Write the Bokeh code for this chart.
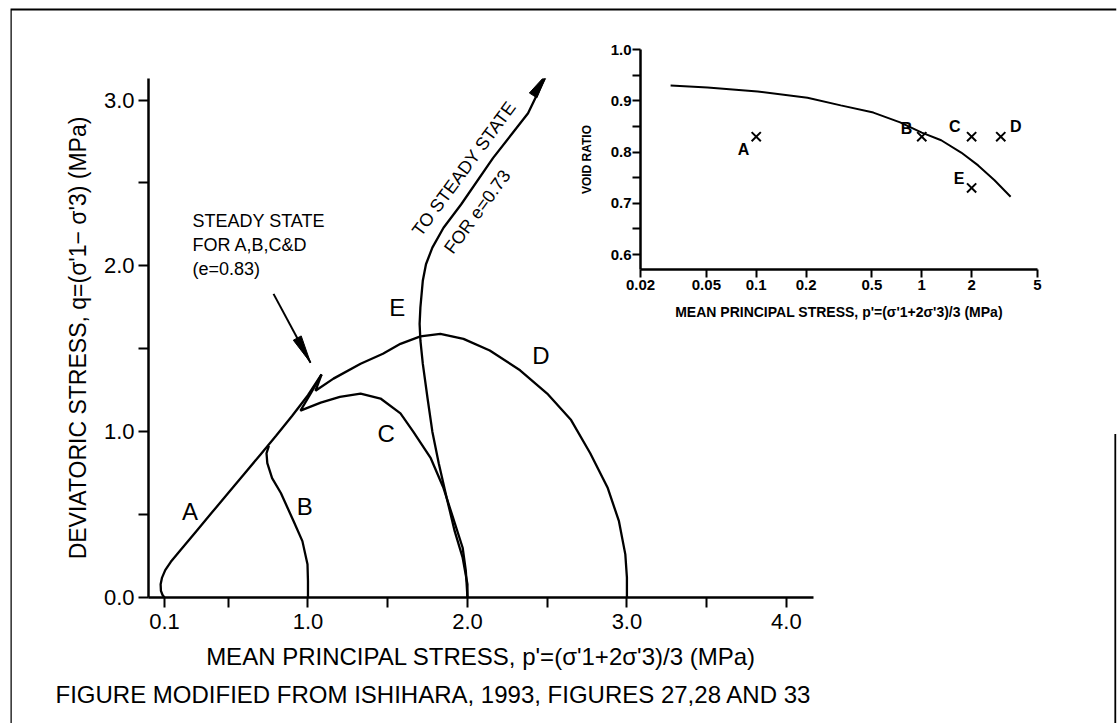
import math
from bokeh.plotting import figure
from bokeh.models import Column, Range1d, FixedTicker, Title, CustomJSTickFormatter
from bokeh.embed import file_html
from bokeh.resources import INLINE
from bokeh.core.properties import value

W, H = 1119, 723
FONT = "Liberation Sans"

# ---------------- main chart data (p', q in MPa) ----------------
A_p = [0.100, 0.088, 0.078, 0.076, 0.085, 0.105, 0.140, 0.200, 0.300, 0.400, 0.500, 0.600, 0.700, 0.800, 0.900, 1.000, 1.085]
A_q = [0.000, 0.015, 0.040, 0.080, 0.120, 0.165, 0.215, 0.285, 0.400, 0.515, 0.630, 0.745, 0.860, 0.975, 1.095, 1.220, 1.345]

B_p = [1.000, 1.000, 0.997, 0.965, 0.910, 0.830, 0.775, 0.745, 0.740, 0.755]
B_q = [0.000, 0.100, 0.200, 0.340, 0.460, 0.630, 0.720, 0.810, 0.870, 0.915]

C_p = [2.000, 1.990, 1.970, 1.910, 1.850, 1.770, 1.660, 1.580, 1.455, 1.330, 1.200, 1.080, 0.953, 1.020, 1.085]
C_q = [0.000, 0.160, 0.300, 0.480, 0.660, 0.840, 1.000, 1.110, 1.200, 1.230, 1.210, 1.175, 1.127, 1.235, 1.345]

D_p = [3.000, 3.000, 2.990, 2.950, 2.880, 2.770, 2.650, 2.500, 2.330, 2.140, 1.975, 1.830, 1.705, 1.580, 1.470, 1.330, 1.160, 1.047, 1.085]
D_q = [0.000, 0.120, 0.260, 0.460, 0.660, 0.870, 1.070, 1.230, 1.370, 1.490, 1.560, 1.590, 1.575, 1.530, 1.470, 1.410, 1.320, 1.247, 1.345]

E_p = [2.000, 2.000, 1.970, 1.920, 1.870, 1.820, 1.780, 1.750, 1.720, 1.705, 1.700, 1.705, 1.720, 1.740, 1.780, 1.850, 1.960, 2.160, 2.380, 2.500]
E_q = [0.000, 0.080, 0.240, 0.400, 0.600, 0.810, 1.000, 1.200, 1.410, 1.550, 1.650, 1.750, 1.910, 2.010, 2.110, 2.230, 2.370, 2.650, 2.920, 3.160]

curve_names = ["A", "B", "C", "D", "E"]
curve_label_p = [0.26, 0.98, 1.49, 2.46, 1.56]
curve_label_q = [0.52, 0.55, 0.99, 1.46, 1.75]

x_major = [0.1, 1.0, 2.0, 3.0, 4.0]
x_minor = [0.5, 1.5, 2.5, 3.5]
y_major = [0.0, 1.0, 2.0, 3.0]
y_minor = [0.5, 1.5, 2.5]

# annotation: steady state arrow (start -> tip)
ss_arrow_p = [0.784, 1.016]
ss_arrow_q = [1.831, 1.416]
ss_text = "STEADY STATE\nFOR A,B,C&D\n(e=0.83)"
ss_text_pos = (0.276, 2.33)
e_text1 = "TO STEADY STATE"
e_text2 = "FOR e=0.73"
e_text1_pos = (2.030, 2.550)
e_text2_pos = (2.012, 2.362)
footer = "FIGURE MODIFIED FROM ISHIHARA, 1993, FIGURES 27,28 AND 33"

# ---------------- inset data ----------------
ssl_p = [0.0304, 0.0508, 0.102, 0.204, 0.324, 0.51, 0.74, 1.0, 1.31, 1.73, 2.19, 2.75, 3.44]
ssl_e = [0.930, 0.926, 0.918, 0.906, 0.891, 0.877, 0.858, 0.838, 0.823, 0.799, 0.774, 0.745, 0.713]

pt_names = ["A", "B", "C", "D", "E"]
pt_p = [0.1, 1.0, 2.0, 3.0, 2.0]
pt_e = [0.83, 0.83, 0.83, 0.83, 0.73]
pt_label_p = [0.0837, 0.81, 1.58, 3.7, 1.68]
pt_label_e = [0.805, 0.846, 0.85, 0.85, 0.748]

ix_ticks = [0.02, 0.05, 0.1, 0.2, 0.5, 1, 2, 5]
iy_major = [0.6, 0.7, 0.8, 0.9, 1.0]
iy_minor = [0.65, 0.75, 0.85, 0.95]

# ---------------- layout geometry ----------------
M_L, M_R, M_T, M_B = 148, 306, 78, 126
XR = (0.0, 4.17)
YR = (0.0, 3.13)
FW, FH = W - M_L - M_R, H - M_T - M_B
SX, SY = FW / (XR[1] - XR[0]), FH / (YR[1] - YR[0])


def head(xt, yt, xf, yf, L, Wd):
    dx, dy = (xt - xf) * SX, (yt - yf) * SY
    n = math.hypot(dx, dy)
    ux, uy = dx / n, dy / n
    bx, by = -ux * L, -uy * L
    px, py = -uy * Wd / 2, ux * Wd / 2
    xs = [xt, xt + (bx + px) / SX, xt + (bx - px) / SX]
    ys = [yt, yt + (by + py) / SY, yt + (by - py) / SY]
    return xs, ys


def common(fig):
    fig.background_fill_alpha = 0
    fig.border_fill_alpha = 0
    fig.outline_line_color = None
    fig.grid.visible = False


def no_align(fig):
    try:
        fig.frame_align = False
    except Exception:
        pass


# ---------------- border figure ----------------
bf = figure(width=W, height=H, x_range=Range1d(0, 1), y_range=Range1d(0, 1),
            output_backend="svg", toolbar_location=None,
            min_border_left=10, min_border_right=3, min_border_top=8, min_border_bottom=0)
bf.outline_line_color = None
bf.grid.visible = False
bf.axis.visible = False
bf.line([0.0, 0.0, 1.0], [0.0, 0.999, 0.999], line_color="black", line_width=2.5)
bf.line([0.999, 0.999], [0.0, 0.405], line_color="black", line_width=2)

# ---------------- main figure ----------------
p = figure(width=W, height=H, x_range=Range1d(*XR), y_range=Range1d(*YR),
           output_backend="svg", toolbar_location=None,
           min_border_left=M_L, min_border_right=M_R, min_border_top=M_T, min_border_bottom=M_B)
common(p)

for xs, ys in [(A_p, A_q), (B_p, B_q), (C_p, C_q), (D_p, D_q), (E_p, E_q)]:
    p.line(xs, ys, line_color="black", line_width=2.3)

p.text(x=curve_label_p, y=curve_label_q, text=curve_names, text_font=value(FONT),
       text_font_size="24px", text_align="center", text_baseline="middle", text_color="black")

# steady state arrow
p.line(ss_arrow_p, ss_arrow_q, line_color="black", line_width=2)
hx, hy = head(ss_arrow_p[1], ss_arrow_q[1], ss_arrow_p[0], ss_arrow_q[0], 28, 9)
p.patch(hx, hy, fill_color="black", line_color="black", line_width=1)
# arrow at end of E
hx2, hy2 = head(E_p[-1], E_q[-1], E_p[-3], E_q[-3], 26, 9)
p.patch(hx2, hy2, fill_color="black", line_color="black", line_width=1)

p.text(x=[ss_text_pos[0]], y=[ss_text_pos[1]], text=[ss_text], text_font=value(FONT),
       text_font_size="18px", text_align="left", text_baseline="top", text_line_height=1.2)

ang = math.atan2((E_q[-2] - E_q[-4]) * SY, (E_p[-2] - E_p[-4]) * SX)
p.text(x=[e_text1_pos[0]], y=[e_text1_pos[1]], text=[e_text1], angle=ang, text_font=value(FONT),
       text_font_size="18px", text_align="center", text_baseline="bottom")
p.text(x=[e_text2_pos[0]], y=[e_text2_pos[1]], text=[e_text2], angle=ang, text_font=value(FONT),
       text_font_size="18px", text_align="center", text_baseline="top")

p.xaxis.ticker = FixedTicker(ticks=x_major, minor_ticks=x_minor)
p.yaxis.ticker = FixedTicker(ticks=y_major, minor_ticks=y_minor)
p.xaxis.formatter = CustomJSTickFormatter(code="return tick.toFixed(1);")
p.yaxis.formatter = CustomJSTickFormatter(code="return tick.toFixed(1);")
for ax in [p.xaxis[0], p.yaxis[0]]:
    ax.axis_line_width = 2.5
    ax.axis_line_color = "black"
    ax.major_tick_line_width = 2
    ax.minor_tick_line_width = 2
    ax.major_tick_line_color = "black"
    ax.minor_tick_line_color = "black"
    ax.major_tick_in = 0
    ax.minor_tick_in = 0
    ax.major_tick_out = 10
    ax.minor_tick_out = 10
    ax.major_label_text_font = FONT
    ax.major_label_text_font_size = "22px"
    ax.major_label_text_color = "black"
    ax.axis_label_text_font = FONT
    ax.axis_label_text_font_style = "normal"
    ax.axis_label_text_color = "black"
p.xaxis.axis_label_text_font_size = "24px"
p.yaxis.axis_label_text_font_size = "23px"
p.xaxis.major_label_standoff = 6
p.yaxis.major_label_standoff = 4
p.xaxis.axis_label = "MEAN PRINCIPAL STRESS, p'=(σ'1+2σ'3)/3 (MPa)"
p.yaxis.axis_label = "DEVIATORIC STRESS, q=(σ'1− σ'3) (MPa)"
p.xaxis.axis_label_standoff = 11
p.yaxis.axis_label_standoff = 10

p.add_layout(Title(text=footer, align="left", offset=55 - M_L, standoff=13,
                   text_font=FONT, text_font_size="24px", text_font_style="normal",
                   text_color="black"), "below")

# ---------------- inset figure ----------------
I_L, I_R, I_T, I_B = 640, 82, 49, 454
IXR = (0.02, 5.0)
IYR = (0.571, 1.0)
ins = figure(width=W, height=H, x_axis_type="log", x_range=Range1d(*IXR), y_range=Range1d(*IYR),
             output_backend="svg", toolbar_location=None,
             min_border_left=I_L, min_border_right=I_R, min_border_top=I_T, min_border_bottom=I_B)
common(ins)
ins.line(ssl_p, ssl_e, line_color="black", line_width=2)
ins.scatter(pt_p, pt_e, marker="x", size=13, line_color="black", line_width=2)
ins.text(x=pt_label_p, y=pt_label_e, text=pt_names, text_font=value(FONT), text_font_size="16px",
         text_font_style="bold", text_align="center", text_baseline="middle")

ins.xaxis.ticker = FixedTicker(ticks=ix_ticks)
ins.xaxis.formatter = CustomJSTickFormatter(code="return String(Math.round(tick*100)/100);")
ins.yaxis.ticker = FixedTicker(ticks=iy_major, minor_ticks=iy_minor)
ins.yaxis.formatter = CustomJSTickFormatter(code="return tick.toFixed(1);")
for ax in [ins.xaxis[0], ins.yaxis[0]]:
    ax.axis_line_width = 2.5
    ax.axis_line_color = "black"
    ax.major_tick_line_width = 2
    ax.minor_tick_line_width = 2
    ax.major_tick_line_color = "black"
    ax.minor_tick_line_color = "black"
    ax.major_tick_in = 0
    ax.minor_tick_in = 0
    ax.major_tick_out = 8
    ax.minor_tick_out = 8
    ax.major_label_text_font = FONT
    ax.major_label_text_font_size = "15px"
    ax.major_label_text_font_style = "bold"
    ax.major_label_text_color = "black"
    ax.axis_label_text_font = FONT
    ax.axis_label_text_font_style = "bold"
    ax.axis_label_text_color = "black"
ins.xaxis.axis_label_text_font_size = "14px"
ins.yaxis.axis_label_text_font_size = "12px"
ins.xaxis.minor_tick_out = 0
ins.xaxis.major_label_standoff = 2
ins.yaxis.major_label_standoff = 1
ins.xaxis.axis_label = "MEAN PRINCIPAL STRESS, p'=(σ'1+2σ'3)/3 (MPa)"
ins.xaxis.axis_label_standoff = 11
ins.yaxis.axis_label = "VOID RATIO"
ins.yaxis.axis_label_standoff = 14

for f in (bf, p, ins):
    no_align(f)
p.margin = (-H, 0, 0, 0)
ins.margin = (-H, 0, 0, 0)
root = Column(children=[bf, p, ins], width=W, height=H)
open("out.html", "w").write(file_html(root, INLINE))
